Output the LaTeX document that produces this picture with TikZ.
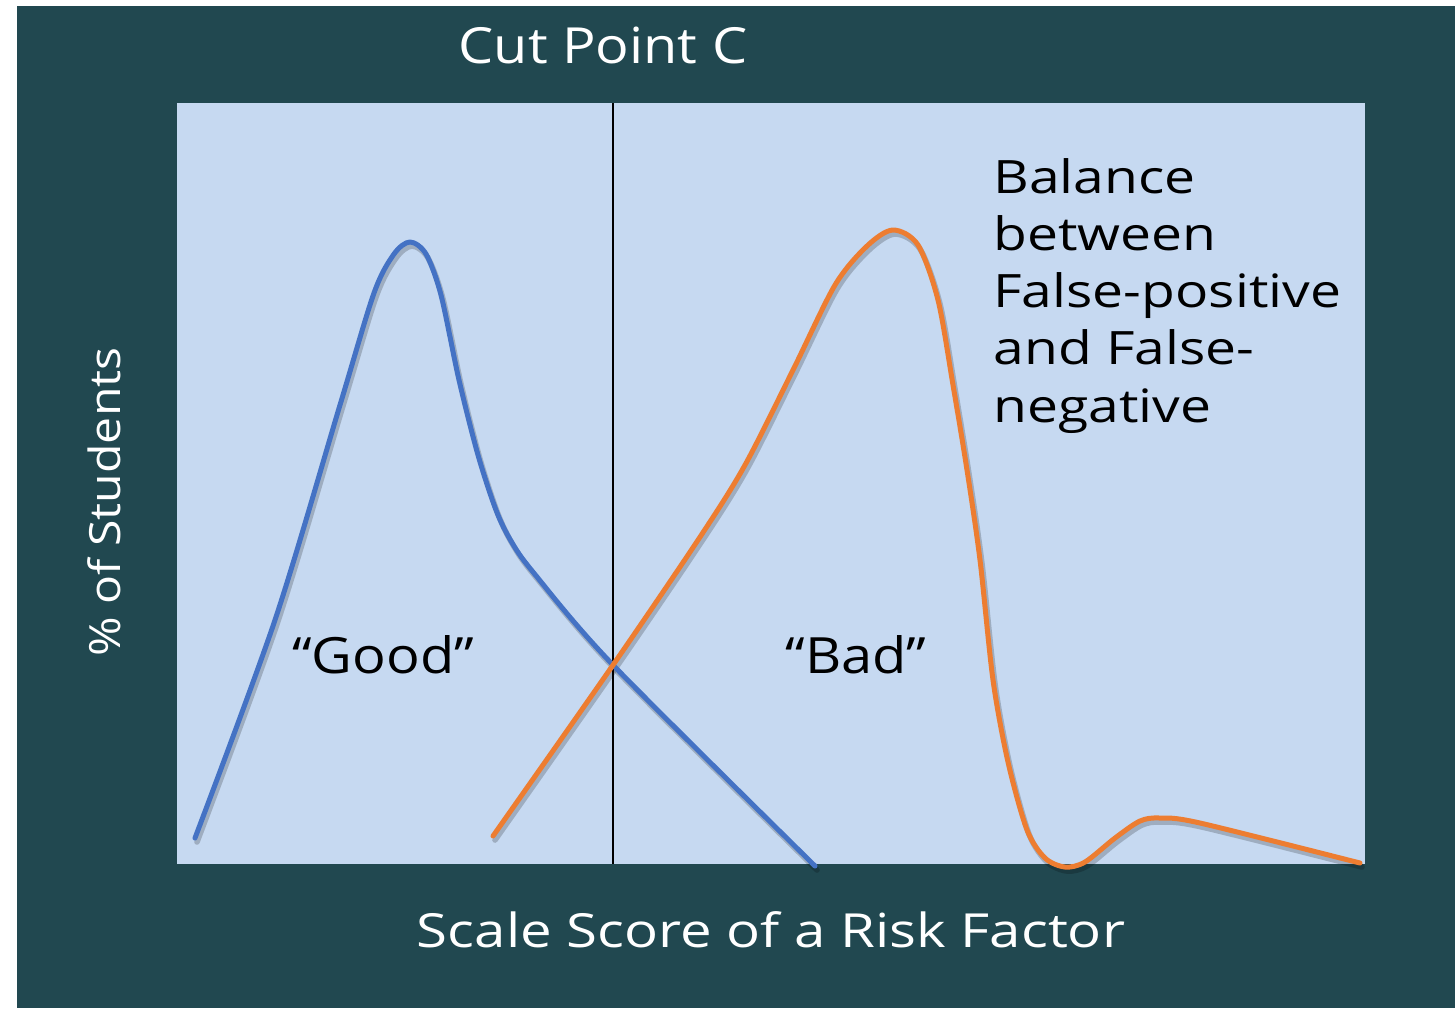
\documentclass[tikz,border=0pt]{standalone}
\usepackage{fontspec}
\setmainfont[FakeStretch=1.12]{Open Sans}
\newfontfamily\widefont[FakeStretch=1.2]{Open Sans}
\definecolor{bgdark}{HTML}{214850}
\definecolor{plotbg}{HTML}{C6D9F1}
\definecolor{goodblue}{HTML}{4472C4}
\definecolor{badorange}{HTML}{ED7D31}
\newcommand\goodcurve[1]{\draw[#1] plot[smooth,tension=0.5] coordinates {
 (195,838) (275,620) (340,405) (374,293) (394,254) (410,242) (426,254) (441,295) (459,380) (478,455) (496,510) (511,541) (533,572) (613,665) (815,866)};}
\newcommand\badcurve[1]{\draw[#1] plot[smooth,tension=0.5] coordinates {
 (493,836) (613,665) (700,537) (745,465) (793,370) (835,285) (867,246) (893,230) (918,245) (938,300) (953,385) (967,470) (980,560) (993,680) (1008,762) (1027,830) (1045,858) (1065,867) (1085,862) (1115,838) (1140,821) (1160,818) (1200,823) (1360,863)};}
\begin{document}
\begin{tikzpicture}[x=0.5pt,y=-0.5pt,
  curve/.style={line width=2.5pt,line cap=round,line join=round},
  shade/.style={line width=2.8pt,draw=black,opacity=0.2,shift={(2,4)},line cap=round,line join=round},
  outerlabel/.style={text=white,inner sep=0pt,anchor=base},
  innerlabel/.style={text=black,inner sep=0pt,anchor=base}]
\useasboundingbox (0,0) rectangle (1455,1009);
\fill[white] (0,0) rectangle (1455,1009);
\fill[bgdark] (17,6) rectangle (1455,1008);
\fill[plotbg] (177,103) rectangle (1365,864);
\coordinate (cuttop) at (613,103);
\coordinate (cutbot) at (613,864);
\goodcurve{shade}
\badcurve{shade}
\draw[line width=1.2pt] (cuttop) -- (cutbot);
\goodcurve{curve,draw=goodblue}
\badcurve{curve,draw=badorange}
\node[outerlabel,font=\fontsize{24.9pt}{29pt}\selectfont] (cut) at (603,63) {Cut Point C};
\node[outerlabel,font=\widefont\fontsize{23.5pt}{29pt}\selectfont] (xlab) at (771,947) {Scale Score of a Risk Factor};
\node[outerlabel,rotate=90,font=\fontsize{21.5pt}{29pt}\selectfont] (ylab) at (120,502) {\% of Students};
\node[innerlabel,font=\fontsize{25pt}{30pt}\selectfont] (good) at (383,673) {“Good”};
\node[innerlabel,font=\fontsize{25pt}{30pt}\selectfont] (bad) at (856,673) {“Bad”};
\node[text=black,inner sep=0pt,anchor=north west,align=left,font=\widefont\fontsize{23pt}{28.6pt}\selectfont] (balance) at (993,158) {Balance\\between\\False-positive\\and False-\\negative};
\end{tikzpicture}
\end{document}
